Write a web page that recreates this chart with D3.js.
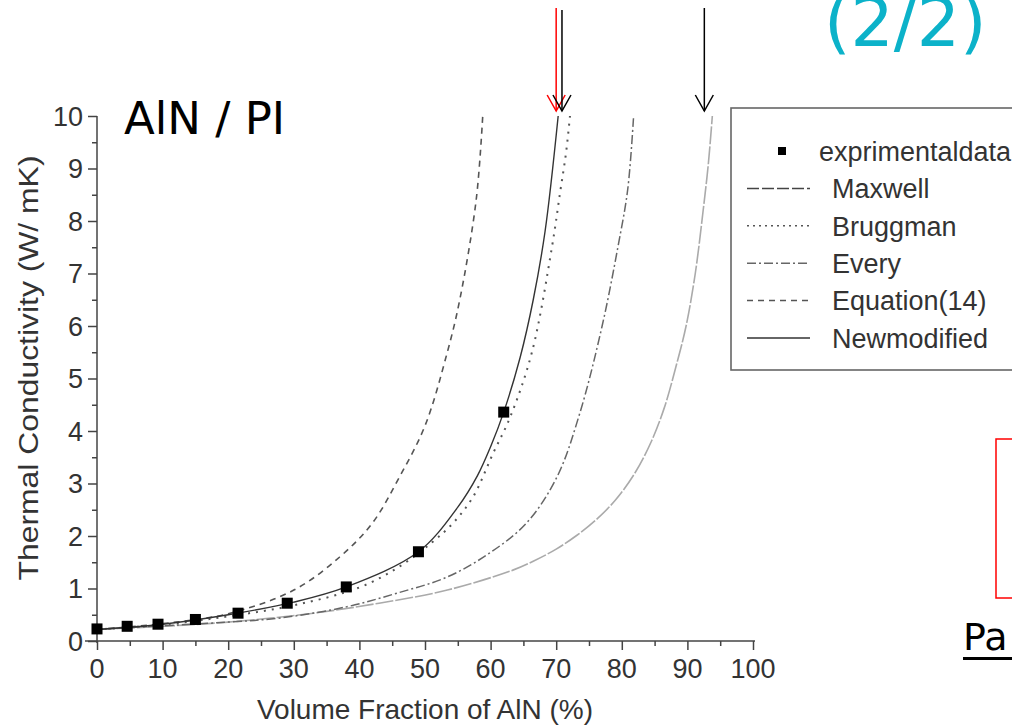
<!DOCTYPE html>
<html>
<head>
<meta charset="utf-8">
<script src="https://cdn.jsdelivr.net/npm/d3@7"></script>
<style>
  body { margin: 0; background: #fff; }
  svg { display: block; }
</style>
</head>
<body>
<svg class="svg"></svg>
<script>
const expX = [0, 4.6, 9.3, 15, 21.5, 29, 38, 49, 62]
const expY = [0.23, 0.28, 0.32, 0.41, 0.53, 0.72, 1.03, 1.70, 4.36]

// model curves, sampled by eye
const maxwellX = [0, 10, 20, 33, 43, 53.4, 63.4, 66.5, 70, 73, 76, 79, 82, 84.5, 86.5, 88.2, 89.8, 91.2, 92.4, 93.2, 93.8]
const maxwellY = [0.22, 0.28, 0.36, 0.53, 0.72, 0.97, 1.35, 1.52, 1.75, 2.0, 2.3, 2.68, 3.2, 3.8, 4.45, 5.2, 6.0, 7.0, 8.2, 9.1, 10]
const bruggX = [0, 10, 20, 30, 40, 46, 51, 54.3, 57.3, 60.4, 63, 66.3, 69.4, 70.6, 71.5, 72.1]
const bruggY = [0.22, 0.31, 0.47, 0.68, 1.02, 1.41, 1.87, 2.25, 2.74, 3.58, 4.27, 5.5, 7.54, 8.55, 9.3, 10]
const everyX = [0, 10, 20, 28, 38, 45.7, 53.4, 59.9, 65.5, 70.1, 73.6, 77, 79.4, 80.9, 81.8]
const everyY = [0.22, 0.29, 0.36, 0.44, 0.65, 0.91, 1.22, 1.68, 2.25, 3.12, 4.34, 6.0, 7.5, 8.6, 10]
const eq14X = [0, 10, 20, 30, 37, 42, 46, 50, 53.4, 55.3, 57.8, 58.8]
const eq14Y = [0.22, 0.33, 0.52, 0.97, 1.6, 2.25, 3.1, 4.1, 5.5, 6.5, 8.4, 10]
const newModX = [0, 10, 20, 30, 38, 49, 55, 58, 60, 62, 64.5, 66.5, 68.3, 70.3]
const newModY = [0.22, 0.32, 0.5, 0.74, 1.03, 1.7, 2.55, 3.15, 3.7, 4.36, 5.4, 6.5, 7.8, 10]

const legendLabels = ["exprimentaldata", "Maxwell", "Bruggman", "Every", "Equation(14)", "Newmodified"]
const xTicks = [0, 10, 20, 30, 40, 50, 60, 70, 80, 90, 100]
const yTicks = [0, 1, 2, 3, 4, 5, 6, 7, 8, 9, 10]
const arrowXs = [70.3, 72.1, 93.8] // where the arrows point, on the x scale

const width = 1012, height = 725
const svg = d3.select(".svg").attr("width", width).attr("height", height)
  .style("font-family", "'Liberation Sans', Arial, sans-serif")

const x = d3.scaleLinear().domain([0, 100]).range([97, 753])
const y = d3.scaleLinear().domain([0, 10]).range([641, 116])

const series = [
  { name: "Maxwell", xs: maxwellX, ys: maxwellY, color: "#aaa", width: 1.6, dash: "18,2" },
  { name: "Bruggman", xs: bruggX, ys: bruggY, color: "#555", width: 2, dash: "2,6" },
  { name: "Every", xs: everyX, ys: everyY, color: "#666", width: 1.5, dash: "9,3,2,3" },
  { name: "Equation(14)", xs: eq14X, ys: eq14Y, color: "#555", width: 1.6, dash: "6,5" },
  { name: "Newmodified", xs: newModX, ys: newModY, color: "#333", width: 1.4, dash: null }
]

// axes
const xAxis = svg.append("g").attr("transform", `translate(0,${y(0)})`)
  .call(d3.axisBottom(x).tickValues(d3.range(0, 101, 5)).tickSize(8).tickFormat(""))
xAxis.selectAll(".tick line").attr("y2", (d) => d % 10 === 0 ? 9 : 5)
xAxis.select(".domain").attr("d", `M${x(0) - 12},0H${x(100) + 2}`)

const yAxis = svg.append("g").attr("transform", `translate(${x(0)},0)`)
  .call(d3.axisLeft(y).tickValues(d3.range(0, 10.01, 0.5)).tickSize(8).tickFormat(""))
yAxis.selectAll(".tick line").attr("x2", (d) => Math.abs(d - Math.round(d)) < 0.01 ? -9 : -5)
yAxis.select(".domain").attr("d", `M0,${y(10)}V${y(0) + 2}`)

svg.selectAll(".domain, .tick line").attr("stroke", "#444").attr("stroke-width", 1.5)

svg.append("g").selectAll("text").data(xTicks).join("text")
  .attr("x", (d) => x(d)).attr("y", 678)
  .attr("text-anchor", "middle").attr("font-size", 27).attr("fill", "#333")
  .text((d) => d)

svg.append("g").selectAll("text").data(yTicks).join("text")
  .attr("x", 83).attr("y", (d) => y(d)).attr("dy", "0.36em")
  .attr("text-anchor", "end").attr("font-size", 27).attr("fill", "#333")
  .text((d) => d)

svg.append("text").attr("x", 425).attr("y", 719)
  .attr("text-anchor", "middle").attr("font-size", 28).attr("fill", "#333")
  .text("Volume Fraction of AlN (%)")

svg.append("text")
  .attr("transform", `translate(38,${368}) rotate(-90)`)
  .attr("text-anchor", "middle").attr("font-size", 27).attr("fill", "#333")
  .attr("textLength", 425).attr("lengthAdjust", "spacingAndGlyphs")
  .text("Thermal Conductivity (W/ mK)")

// curves
const line = d3.line().x((d) => x(d[0])).y((d) => y(d[1])).curve(d3.curveCatmullRom.alpha(0.5))

svg.append("g").selectAll("path").data(series).join("path")
  .attr("d", (s) => line(d3.zip(s.xs, s.ys)))
  .attr("fill", "none")
  .attr("stroke", (s) => s.color)
  .attr("stroke-width", (s) => s.width)
  .attr("stroke-dasharray", (s) => s.dash)

svg.append("g").selectAll("rect").data(d3.zip(expX, expY)).join("rect")
  .attr("x", (d) => x(d[0]) - 5.5).attr("y", (d) => y(d[1]) - 5.5)
  .attr("width", 11).attr("height", 11).attr("fill", "#000")

// legend
const legend = svg.append("g")
legend.append("rect").attr("x", 731).attr("y", 108).attr("width", 300).attr("height", 262)
  .attr("fill", "#fff").attr("stroke", "#666").attr("stroke-width", 1.6)

const rowY = (i) => 151 + i * 37.4
legend.append("rect").attr("x", 778).attr("y", rowY(0) - 4).attr("width", 8).attr("height", 8).attr("fill", "#000")
legend.selectAll("line").data(series).join("line")
  .attr("x1", 747).attr("x2", 810)
  .attr("y1", (s, i) => rowY(i + 1)).attr("y2", (s, i) => rowY(i + 1))
  .attr("stroke", (s) => s.name === "Maxwell" ? "#444" : s.color)
  .attr("stroke-width", 1.5)
  .attr("stroke-dasharray", (s) => s.name === "Maxwell" ? "12,3" : s.name === "Bruggman" ? "2,4" : s.dash)
legend.selectAll("text").data(legendLabels).join("text")
  .attr("x", (d, i) => i === 0 ? 819 : 832).attr("y", (d, i) => rowY(i)).attr("dy", "0.36em")
  .attr("font-size", 27).attr("fill", "#333")
  .text((d) => d)

// slide overlays
svg.append("text").attr("x", 124).attr("y", 134)
  .attr("font-family", "'DejaVu Sans', sans-serif").attr("font-size", 45).attr("fill", "#000")
  .text("AlN / PI")

svg.append("text").attr("x", 824).attr("y", 46)
  .attr("font-family", "'DejaVu Sans', sans-serif").attr("font-size", 68).attr("fill", "#0cb2c9")
  .text("(2/2)")

const arrows = [
  { px: x(arrowXs[0]) - 2, color: "#f00", top: 8 },
  { px: x(arrowXs[1]) - 8, color: "#000", top: 10 },
  { px: x(arrowXs[2]) - 8, color: "#000", top: 8 }
]
const arrowG = svg.append("g").selectAll("g").data(arrows).join("g")
arrowG.append("line").attr("x1", (d) => d.px).attr("x2", (d) => d.px)
  .attr("y1", (d) => d.top).attr("y2", 111).attr("stroke", (d) => d.color).attr("stroke-width", 1.5)
arrowG.append("path")
  .attr("d", (d) => `M${d.px - 9},95L${d.px},111L${d.px + 9},95`)
  .attr("fill", "none").attr("stroke", (d) => d.color).attr("stroke-width", 1.5)

svg.append("rect").attr("x", 996).attr("y", 439).attr("width", 30).attr("height", 159)
  .attr("fill", "none").attr("stroke", "#f00").attr("stroke-width", 1.5)

svg.append("text").attr("x", 963).attr("y", 650)
  .attr("font-family", "'DejaVu Sans', sans-serif").attr("font-size", 38).attr("fill", "#000")
  .text("Pa")
svg.append("rect").attr("x", 963).attr("y", 657).attr("width", 60).attr("height", 3).attr("fill", "#000")
</script>
</body>
</html>
